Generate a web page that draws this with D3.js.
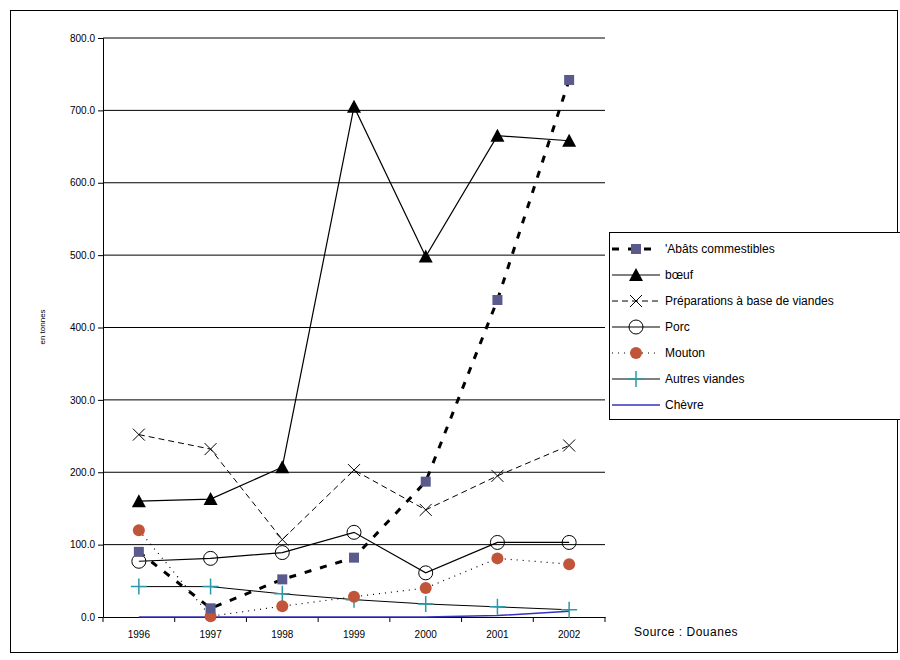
<!DOCTYPE html>
<html><head><meta charset="utf-8">
<script src="https://cdn.jsdelivr.net/npm/d3@7"></script>
<style>body{margin:0;background:#fff;font-family:Arial,"Liberation Sans",sans-serif}</style>
</head><body><div id="chart"></div>
<script>
const years = ['1996', '1997', '1998', '1999', '2000', '2001', '2002'];
const abats = [90, 12, 52, 82, 187, 438, 742];
const boeuf = [160, 163, 207, 705, 498, 665, 658];
const preparations = [252, 232, 107, 203, 148, 195, 237];
const porc = [77, 81, 89, 117, 61, 103, 103];
const mouton = [120, 1, 15, 28, 40, 81, 73];
const autres = [42, 42, 32, 24, 18, 14, 10];
const chevre = [0, 0, 0, 0, 0, 2, 8];
const yTicks = [0, 100, 200, 300, 400, 500, 600, 700, 800];

const series = [
  { name: "'Abâts commestibles", values: abats, stroke: '#000', width: 3, dash: '7,9', marker: 'square', fill: '#5a5a8c' },
  { name: 'bœuf', values: boeuf, stroke: '#000', width: 1.2, dash: null, marker: 'triangle', fill: '#000' },
  { name: 'Préparations à base de viandes', values: preparations, stroke: '#000', width: 1, dash: '6,4', marker: 'x', fill: 'none' },
  { name: 'Porc', values: porc, stroke: '#000', width: 1.2, dash: null, marker: 'circle', fill: '#fff' },
  { name: 'Mouton', values: mouton, stroke: '#000', width: 1.2, dash: '1,5', marker: 'dot', fill: '#c0553a' },
  { name: 'Autres viandes', values: autres, stroke: '#000', width: 1, dash: null, marker: 'plus', fill: '#2a9aa8' },
  { name: 'Chèvre', values: chevre, stroke: '#3333bb', width: 1.5, dash: null, marker: 'none', fill: '#3333bb' }
];

const svg = d3.select('#chart').append('svg').attr('width', 900).attr('height', 660);
svg.append('rect').attr('x', 10.5).attr('y', 10.5).attr('width', 887).attr('height', 642)
  .attr('fill', '#fff').attr('stroke', '#000');

const x = d3.scaleBand().domain(years).range([103, 605]);
const y = d3.scaleLinear().domain([0, 800]).range([617, 38]);
const cx = d => x(d) + x.bandwidth() / 2;

yTicks.filter(t => t > 0).forEach(t => {
  svg.append('line').attr('x1', 103).attr('x2', 605).attr('y1', y(t)).attr('y2', y(t)).attr('stroke', '#000');
});

const ya = svg.append('g').attr('transform', 'translate(103,0)')
  .call(d3.axisLeft(y).tickValues(yTicks).tickSize(5).tickFormat(d3.format('.1f')));
ya.selectAll('text').attr('font-size', 10).attr('font-family', 'Arial').attr('fill', '#000');
ya.select('.domain').attr('stroke', '#000');

const xa = svg.append('g').attr('transform', 'translate(0,617)')
  .call(d3.axisBottom(x).tickSize(0).tickPadding(14));
xa.selectAll('text').attr('font-size', 10).attr('font-family', 'Arial').attr('fill', '#000');
xa.select('.domain').attr('stroke', '#000');
x.domain().concat(['end']).forEach((d, i) => {
  const px = 103 + i * x.bandwidth();
  svg.append('line').attr('x1', px).attr('x2', px).attr('y1', 617).attr('y2', 622).attr('stroke', '#000');
});

svg.append('text').attr('transform', 'translate(45,327) rotate(-90)').attr('text-anchor', 'middle')
  .attr('font-size', 8).text('en tonnes');
svg.append('text').attr('x', 634).attr('y', 636).attr('font-size', 12).attr('letter-spacing', 0.5).text('Source : Douanes');

function drawMarker(g, s, px, py) {
  if (s.marker === 'square') g.append('rect').attr('x', px - 5).attr('y', py - 5).attr('width', 10).attr('height', 10).attr('fill', s.fill);
  else if (s.marker === 'triangle') g.append('path').attr('d', `M${px},${py - 7}L${px + 7},${py + 6}L${px - 7},${py + 6}Z`).attr('fill', '#000');
  else if (s.marker === 'x') g.append('path').attr('d', `M${px - 6},${py - 6}L${px + 6},${py + 6}M${px - 6},${py + 6}L${px + 6},${py - 6}`).attr('stroke', '#000');
  else if (s.marker === 'circle') g.append('circle').attr('cx', px).attr('cy', py).attr('r', 7).attr('fill', 'none').attr('stroke', '#000');
  else if (s.marker === 'dot') g.append('circle').attr('cx', px).attr('cy', py).attr('r', 6).attr('fill', s.fill);
  else if (s.marker === 'plus') g.append('path').attr('d', `M${px - 8},${py}L${px + 8},${py}M${px},${py - 8}L${px},${py + 8}`).attr('stroke', s.fill).attr('stroke-width', 1.5);
}

const line = d3.line().x((d, i) => cx(years[i])).y(d => y(d));
series.slice().reverse().forEach(s => {
  const g = svg.append('g');
  g.append('path').attr('d', line(s.values)).attr('fill', 'none').attr('stroke', s.stroke)
    .attr('stroke-width', s.width).attr('stroke-dasharray', s.dash);
  s.values.forEach((v, i) => drawMarker(g, s, cx(years[i]), y(v)));
});

const lg = svg.append('g');
lg.append('rect').attr('x', 609.5).attr('y', 232.5).attr('width', 300).attr('height', 187)
  .attr('fill', '#fff').attr('stroke', '#000');
series.forEach((s, i) => {
  const ly = 249 + i * 26;
  lg.append('line').attr('x1', 612).attr('x2', 660).attr('y1', ly).attr('y2', ly)
    .attr('stroke', s.stroke).attr('stroke-width', s.width).attr('stroke-dasharray', s.dash);
  drawMarker(lg, s, 636, ly);
  lg.append('text').attr('x', 665).attr('y', ly + 4).attr('font-size', 12).text(s.name);
});
</script></body></html>
